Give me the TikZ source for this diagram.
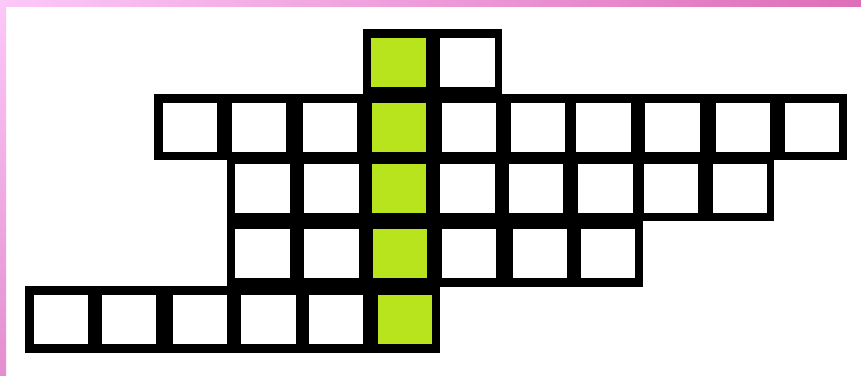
\documentclass[tikz,border=0pt]{standalone}
\usepackage{xcolor}
\usetikzlibrary{positioning}

\definecolor{answergreen}{RGB}{184,228,30}
\definecolor{framelight}{RGB}{252,200,248}
\definecolor{framedark}{RGB}{222,110,184}
\definecolor{framemid}{RGB}{228,142,208}

\begin{document}
\begin{tikzpicture}[
  x=1pt, y=-1pt,
  cell/.style={fill=white, minimum width=54.5pt, minimum height=49.5pt, inner sep=0pt, anchor=north west},
  answer/.style={cell, fill=answergreen},
  band/.style={fill=black}
]
\useasboundingbox (0,0) rectangle (861,375);
% frame strips
\shade[left color=framelight, right color=framedark] (0,0) rectangle (861,6.5);
\shade[top color=framelight, bottom color=framemid] (0,0) rectangle (6,375);
% black rows
\fill[band] (363.3,29.3) rectangle (502,94);
\fill[band] (154.3,94) rectangle (846.7,160);
\fill[band] (226.7,160) rectangle (774.3,221);
\fill[band] (226.7,221) rectangle (643.3,287.3);
\fill[band] (25.3,286) rectangle (440,352.7);
% cells
\foreach \x/\s [count=\i] in {371/answer, 440/cell}
  \node[\s] (r0c\i) at (\x,37.3) {};
\foreach \x/\s [count=\i] in {162.7/cell, 231.7/cell, 302.7/cell, 371.7/answer, 441.7/cell, 510.7/cell, 576/cell, 645/cell, 715.3/cell, 784.3/cell}
  \node[\s] (r1c\i) at (\x,102.3) {};
\foreach \x/\s [count=\i] in {235/cell, 304/cell, 371.7/answer, 440/cell, 508.7/cell, 577.8/cell, 643.3/cell, 712.3/cell}
  \node[\s] (r2c\i) at (\x,163.3) {};
\foreach \x/\s [count=\i] in {235/cell, 304/cell, 372.7/answer, 441.7/cell, 512.7/cell, 580.5/cell}
  \node[\s] (r3c\i) at (\x,228.5) {};
\foreach \x/\s [count=\i] in {33.3/cell, 101.7/cell, 172.3/cell, 241/cell, 308.3/cell, 377.3/answer}
  \node[\s] (r4c\i) at (\x,294.5) {};
\end{tikzpicture}
\end{document}
